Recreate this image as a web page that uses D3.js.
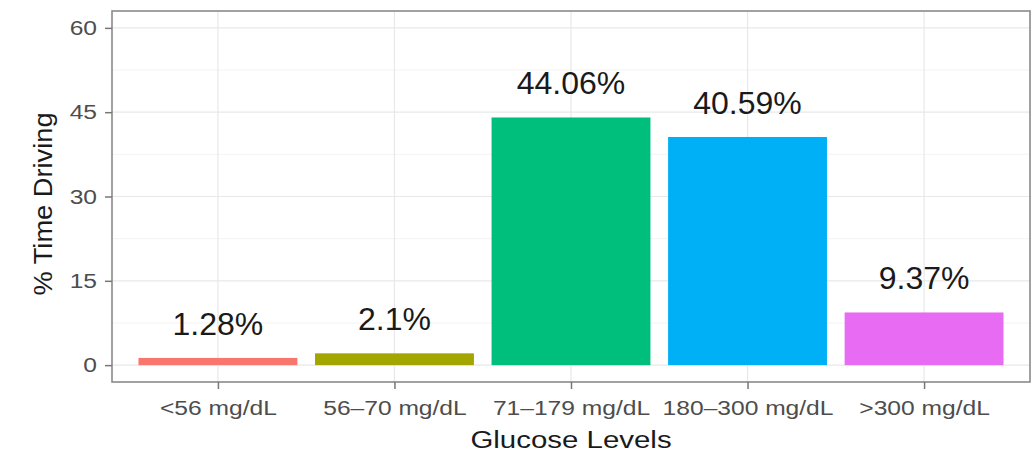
<!DOCTYPE html>
<html>
<head>
<meta charset="utf-8">
<script src="https://cdn.jsdelivr.net/npm/d3@7"></script>
<style>
  body { margin: 0; background: #fff; }
  text { font-family: "Liberation Sans", Arial, sans-serif; }
</style>
</head>
<body>
<div id="chartDiv"></div>
<script>
// data
var categories = ["<56 mg/dL", "56\u201370 mg/dL", "71\u2013179 mg/dL", "180\u2013300 mg/dL", ">300 mg/dL"];
var values = [1.28, 2.1, 44.06, 40.59, 9.37];
var valueLabels = ["1.28%", "2.1%", "44.06%", "40.59%", "9.37%"];
var colors = ["#F8766D", "#A3A500", "#00BF7D", "#00B0F6", "#E76BF3"];
var yTicks = [0, 15, 30, 45, 60];
var yMinor = [7.5, 22.5, 37.5, 52.5];

var width = 1033, height = 453;
var panel = {left: 112, top: 11, right: 1030, bottom: 382};
var stretch = 1.2; // the source text is drawn a bit wide

var svg = d3.select("#chartDiv").append("svg")
    .attr("width", width)
    .attr("height", height);

// discrete x with ggplot-like 0.6 expansion
var step = (panel.right - panel.left) / (categories.length - 1 + 1.2);
var x_scale = d3.scalePoint()
    .domain(categories)
    .range([panel.left + 0.6 * step, panel.right - 0.6 * step]);

var y_scale = d3.scaleLinear()
    .domain([-3, 63])
    .range([panel.bottom, panel.top]);

var barW = step * 0.9;

// grid
var grid = svg.append("g").attr("class", "grid");
grid.selectAll(".minor").data(yMinor).enter().append("line")
    .attr("x1", panel.left).attr("x2", panel.right)
    .attr("y1", function(d){ return y_scale(d); })
    .attr("y2", function(d){ return y_scale(d); })
    .style("stroke", "#f3f3f3").style("stroke-width", 1);
grid.selectAll(".major").data(yTicks).enter().append("line")
    .attr("x1", panel.left).attr("x2", panel.right)
    .attr("y1", function(d){ return y_scale(d); })
    .attr("y2", function(d){ return y_scale(d); })
    .style("stroke", "#e8e8e8").style("stroke-width", 1.2);
grid.selectAll(".vmajor").data(categories).enter().append("line")
    .attr("x1", function(d){ return x_scale(d); })
    .attr("x2", function(d){ return x_scale(d); })
    .attr("y1", panel.top).attr("y2", panel.bottom)
    .style("stroke", "#e8e8e8").style("stroke-width", 1.2);

// bars
svg.append("g").selectAll("rect").data(values).enter().append("rect")
    .attr("x", function(d, i){ return x_scale(categories[i]) - barW / 2; })
    .attr("y", function(d){ return y_scale(d); })
    .attr("width", barW)
    .attr("height", function(d){ return y_scale(0) - y_scale(d); })
    .attr("fill", function(d, i){ return colors[i]; });

// value labels
svg.append("g").selectAll("text").data(values).enter().append("text")
    .attr("x", function(d, i){ return x_scale(categories[i]); })
    .attr("y", function(d){ return y_scale(d) - 23; })
    .attr("text-anchor", "middle")
    .style("font-size", "32px")
    .style("fill", "#1a1a1a")
    .text(function(d, i){ return valueLabels[i]; });

// panel border
svg.append("rect")
    .attr("x", panel.left).attr("y", panel.top)
    .attr("width", panel.right - panel.left)
    .attr("height", panel.bottom - panel.top)
    .attr("fill", "none")
    .style("stroke", "#8a8a8a").style("stroke-width", 1.6);

// axes
var yAxis = svg.append("g")
    .attr("transform", "translate(" + panel.left + ",0)")
    .call(d3.axisLeft(y_scale).tickValues(yTicks).tickSize(7));
var xAxis = svg.append("g")
    .attr("transform", "translate(0," + panel.bottom + ")")
    .call(d3.axisBottom(x_scale).tickSize(7));

[yAxis, xAxis].forEach(function(ax){
  ax.select(".domain").remove();
  ax.selectAll(".tick line").style("stroke", "#777").style("stroke-width", 1.5);
  ax.selectAll(".tick text")
    .style("font-family", "'Liberation Sans', Arial, sans-serif")
    .style("font-size", "20.5px")
    .style("fill", "#4d4d4d");
});
yAxis.selectAll(".tick text")
    .attr("x", -15 / stretch)
    .attr("transform", "scale(" + stretch + ",1)");
xAxis.selectAll(".tick text")
    .attr("y", 33).attr("dy", 0)
    .attr("transform", "scale(" + stretch + ",1)");

// axis titles
svg.append("text")
    .attr("transform", "translate(" + ((panel.left + panel.right) / 2) + ",448) scale(1.28,1)")
    .attr("text-anchor", "middle")
    .style("font-size", "23px")
    .style("fill", "#1a1a1a")
    .text("Glucose Levels");

svg.append("text")
    .attr("transform", "translate(52,204) rotate(-90) scale(1.09,1)")
    .attr("text-anchor", "middle")
    .style("font-size", "25px")
    .style("fill", "#1a1a1a")
    .text("% Time Driving");
</script>
</body>
</html>
